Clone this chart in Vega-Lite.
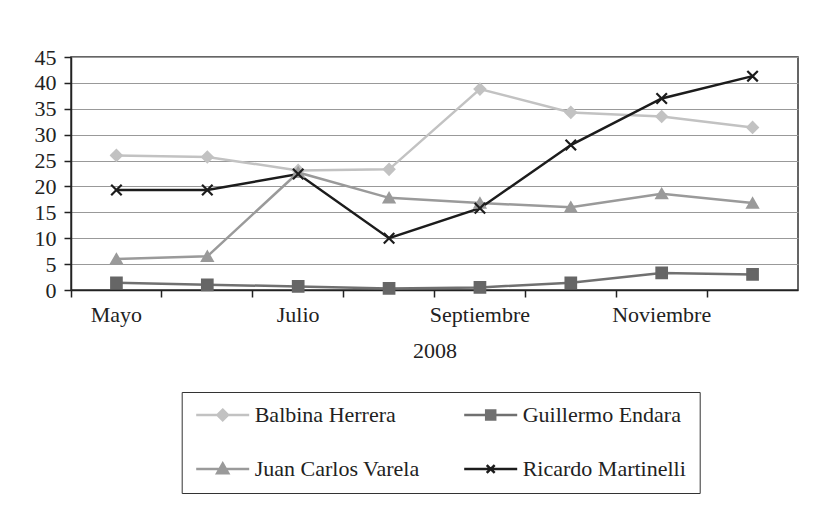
{
  "$schema": "https://vega.github.io/schema/vega-lite/v6.json",
  "width": 727,
  "height": 233,
  "autosize": {"type": "none"},
  "padding": {"left": 71, "top": 57, "right": 30, "bottom": 223},
  "background": "white",
  "config": {
    "view": {"stroke": "#333", "strokeWidth": 1.5},
    "font": "Liberation Serif",
    "axis": {"labelFont": "Liberation Serif", "titleFont": "Liberation Serif", "labelColor": "#222", "titleColor": "#222", "domainColor": "#222", "tickColor": "#222", "domainWidth": 1.5, "tickWidth": 1.5}
  },
  "data": {
    "values": [
      {"mes": "Mayo", "serie": "Balbina Herrera", "v": 26.0},
      {"mes": "Junio", "serie": "Balbina Herrera", "v": 25.7},
      {"mes": "Julio", "serie": "Balbina Herrera", "v": 23.1},
      {"mes": "Agosto", "serie": "Balbina Herrera", "v": 23.3},
      {"mes": "Septiembre", "serie": "Balbina Herrera", "v": 38.8},
      {"mes": "Octubre", "serie": "Balbina Herrera", "v": 34.3},
      {"mes": "Noviembre", "serie": "Balbina Herrera", "v": 33.5},
      {"mes": "Diciembre", "serie": "Balbina Herrera", "v": 31.4},
      {"mes": "Mayo", "serie": "Guillermo Endara", "v": 1.4},
      {"mes": "Junio", "serie": "Guillermo Endara", "v": 1.0},
      {"mes": "Julio", "serie": "Guillermo Endara", "v": 0.7},
      {"mes": "Agosto", "serie": "Guillermo Endara", "v": 0.3},
      {"mes": "Septiembre", "serie": "Guillermo Endara", "v": 0.5},
      {"mes": "Octubre", "serie": "Guillermo Endara", "v": 1.4},
      {"mes": "Noviembre", "serie": "Guillermo Endara", "v": 3.3},
      {"mes": "Diciembre", "serie": "Guillermo Endara", "v": 3.0},
      {"mes": "Mayo", "serie": "Juan Carlos Varela", "v": 6.0},
      {"mes": "Junio", "serie": "Juan Carlos Varela", "v": 6.5},
      {"mes": "Julio", "serie": "Juan Carlos Varela", "v": 22.7},
      {"mes": "Agosto", "serie": "Juan Carlos Varela", "v": 17.8},
      {"mes": "Septiembre", "serie": "Juan Carlos Varela", "v": 16.8},
      {"mes": "Octubre", "serie": "Juan Carlos Varela", "v": 16.0},
      {"mes": "Noviembre", "serie": "Juan Carlos Varela", "v": 18.6},
      {"mes": "Diciembre", "serie": "Juan Carlos Varela", "v": 16.8},
      {"mes": "Mayo", "serie": "Ricardo Martinelli", "v": 19.3},
      {"mes": "Junio", "serie": "Ricardo Martinelli", "v": 19.3},
      {"mes": "Julio", "serie": "Ricardo Martinelli", "v": 22.4},
      {"mes": "Agosto", "serie": "Ricardo Martinelli", "v": 10.0},
      {"mes": "Septiembre", "serie": "Ricardo Martinelli", "v": 15.8},
      {"mes": "Octubre", "serie": "Ricardo Martinelli", "v": 28.0},
      {"mes": "Noviembre", "serie": "Ricardo Martinelli", "v": 37.0},
      {"mes": "Diciembre", "serie": "Ricardo Martinelli", "v": 41.3}
    ]
  },
  "encoding": {
    "x": {
      "field": "mes", "type": "nominal",
      "sort": ["Mayo", "Junio", "Julio", "Agosto", "Septiembre", "Octubre", "Noviembre", "Diciembre"],
      "scale": {"type": "band", "paddingInner": 0, "paddingOuter": 0},
      "axis": {
        "title": "2008", "titleFontSize": 22, "titleFontWeight": "normal", "titlePadding": 15,
        "labelFontSize": 22, "labelAngle": 0, "labelPadding": 7, "tickSize": 7,
        "bandPosition": 0, "grid": false,
        "labelExpr": "indexof(['Mayo','Julio','Septiembre','Noviembre'], datum.label) >= 0 ? datum.label : ''"
      }
    },
    "y": {
      "field": "v", "type": "quantitative",
      "scale": {"domain": [0, 45], "nice": false},
      "axis": {
        "title": null, "values": [0, 5, 10, 15, 20, 25, 30, 35, 40, 45],
        "labelFontSize": 22, "labelPadding": 8, "tickSize": 7,
        "grid": true, "gridColor": "#999", "gridWidth": 1.2
      }
    }
  },
  "layer": [
    {
      "mark": {"type": "line", "strokeWidth": 2.5},
      "encoding": {
        "color": {
          "field": "serie", "type": "nominal", "legend": null,
          "scale": {"domain": ["Balbina Herrera", "Guillermo Endara", "Juan Carlos Varela", "Ricardo Martinelli"], "range": ["#c2c2c2", "#707070", "#9a9a9a", "#1c1c1c"]}
        }
      }
    },
    {
      "mark": {"type": "point", "filled": true, "size": 110, "strokeWidth": 2.2, "opacity": 1},
      "encoding": {
        "color": {
          "field": "serie", "type": "nominal", "legend": null,
          "scale": {"domain": ["Balbina Herrera", "Guillermo Endara", "Juan Carlos Varela", "Ricardo Martinelli"], "range": ["#c2c2c2", "#666666", "#9a9a9a", "#1c1c1c"]}
        },
        "stroke": {
          "field": "serie", "type": "nominal", "legend": null,
          "scale": {"domain": ["Balbina Herrera", "Guillermo Endara", "Juan Carlos Varela", "Ricardo Martinelli"], "range": ["#c2c2c2", "#666666", "#9a9a9a", "#1c1c1c"]}
        },
        "shape": {
          "field": "serie", "type": "nominal", "legend": null,
          "scale": {"domain": ["Balbina Herrera", "Guillermo Endara", "Juan Carlos Varela", "Ricardo Martinelli"], "range": ["diamond", "square", "triangle-up", "M-1,-1L1,1M-1,1L1,-1"]}
        }
      }
    },
    {
      "transform": [{"filter": "datum.v < -100"}],
      "mark": {"type": "point", "filled": true, "strokeWidth": 2.5, "opacity": 1},
      "encoding": {
        "color": {
          "field": "serie", "type": "nominal",
          "scale": {"domain": ["Balbina Herrera", "Guillermo Endara", "Juan Carlos Varela", "Ricardo Martinelli"], "range": ["#c2c2c2", "#707070", "#9a9a9a", "#1c1c1c"]},
          "legend": {
            "orient": "none", "legendX": 110.7, "legendY": 335, "direction": "horizontal", "columns": 2,
            "padding": 13, "strokeColor": "#333", "fillColor": "white", "clipHeight": 20,
            "rowPadding": 32, "columnPadding": 43, "symbolSize": 2809, "symbolStrokeWidth": 2.5,
            "labelFont": "Liberation Serif", "labelFontSize": 22, "labelColor": "#222", "labelOffset": 4,
            "labelLimit": 0, "title": null
          }
        },
        "stroke": {
          "field": "serie", "type": "nominal",
          "scale": {"domain": ["Balbina Herrera", "Guillermo Endara", "Juan Carlos Varela", "Ricardo Martinelli"], "range": ["#c2c2c2", "#707070", "#9a9a9a", "#1c1c1c"]},
          "legend": {
            "orient": "none", "legendX": 110.7, "legendY": 335, "direction": "horizontal", "columns": 2,
            "padding": 13, "strokeColor": "#333", "fillColor": "white", "clipHeight": 20,
            "rowPadding": 32, "columnPadding": 43, "symbolSize": 2809, "symbolStrokeWidth": 2.5,
            "labelFont": "Liberation Serif", "labelFontSize": 22, "labelColor": "#222", "labelOffset": 4,
            "labelLimit": 0, "title": null
          }
        },
        "shape": {
          "field": "serie", "type": "nominal",
          "scale": {"domain": ["Balbina Herrera", "Guillermo Endara", "Juan Carlos Varela", "Ricardo Martinelli"], "range": ["M-1,0H1M0,-0.2L0.2,0L0,0.2L-0.2,0Z", "M-1,0H1M-0.17,-0.17H0.17V0.17H-0.17Z", "M-1,0H1M0,-0.21L0.21,0.16H-0.21Z", "M-1,0H1M-0.15,-0.15L0.15,0.15M-0.15,0.15L0.15,-0.15"]},
          "legend": {
            "orient": "none", "legendX": 110.7, "legendY": 335, "direction": "horizontal", "columns": 2,
            "padding": 13, "strokeColor": "#333", "fillColor": "white", "clipHeight": 20,
            "rowPadding": 32, "columnPadding": 43, "symbolSize": 2809, "symbolStrokeWidth": 2.5,
            "labelFont": "Liberation Serif", "labelFontSize": 22, "labelColor": "#222", "labelOffset": 4,
            "labelLimit": 0, "title": null
          }
        }
      }
    }
  ],
  "resolve": {"scale": {"color": "independent", "stroke": "independent", "shape": "independent"}}
}
